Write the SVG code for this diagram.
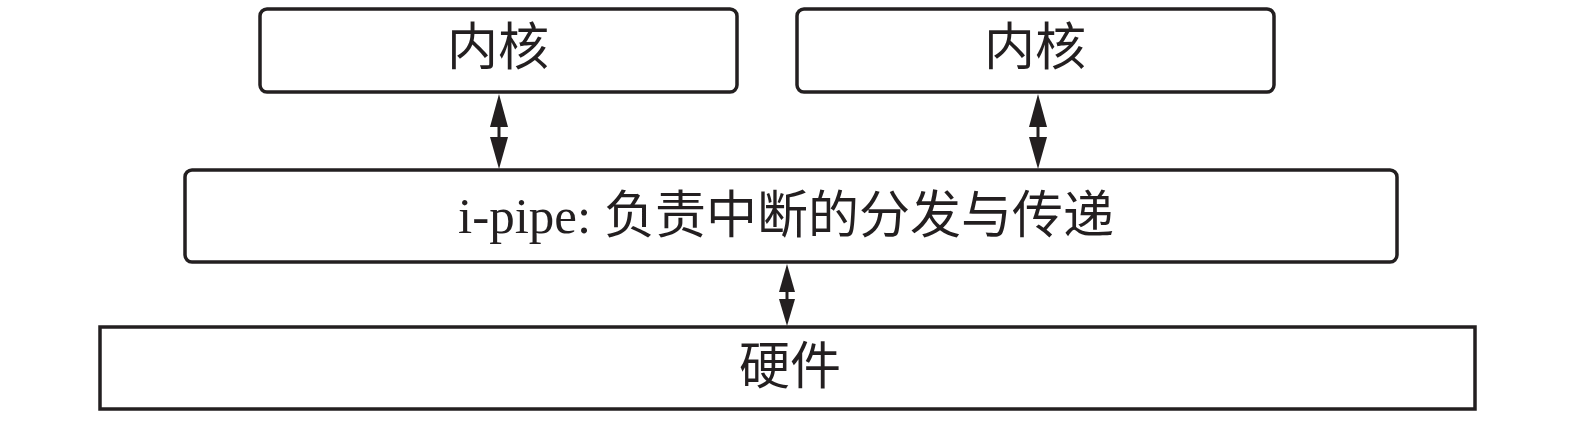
<svg xmlns="http://www.w3.org/2000/svg" width="1575" height="423" viewBox="0 0 1575 423">
<style>
.box{fill:#fff;stroke:#231f20;stroke-width:3.5}
.t{font-family:"Liberation Serif","Noto Sans CJK SC",serif;font-size:51px;fill:#231f20;text-anchor:middle;dominant-baseline:central}
.ln{stroke:#231f20;stroke-width:3}
.hd{fill:#231f20}
</style>
<rect width="1575" height="423" fill="#fff"/>
<g id="kernel1"><rect class="box" x="260" y="9" width="477" height="83" rx="7"/><text class="t" x="498" y="48">内核</text></g>
<g id="kernel2"><rect class="box" x="797" y="9" width="477" height="83" rx="7"/><text class="t" x="1035" y="48">内核</text></g>
<g id="ipipe"><rect class="box" x="185" y="170" width="1212" height="92" rx="7"/><text class="t" x="786" y="216">i-pipe: 负责中断的分发与传递</text></g>
<g id="hardware"><rect class="box" x="100" y="327" width="1375" height="82"/><text class="t" x="790" y="367">硬件</text></g>
<g id="connectors">
<line class="ln" x1="499" y1="120" x2="499" y2="145"/>
<polygon class="hd" points="499,94 490,127 508,127"/>
<polygon class="hd" points="499,169 490,137 508,137"/>
<line class="ln" x1="1038" y1="120" x2="1038" y2="145"/>
<polygon class="hd" points="1038,94 1029,127 1047,127"/>
<polygon class="hd" points="1038,169 1029,137 1047,137"/>
<line class="ln" x1="787" y1="285" x2="787" y2="305"/>
<polygon class="hd" points="787,264 779,292 795,292"/>
<polygon class="hd" points="787,326 779,299 795,299"/>
</g>
</svg>
